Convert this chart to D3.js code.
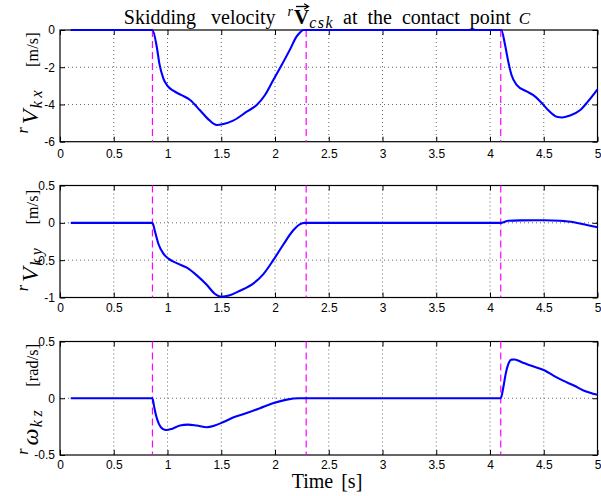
<!DOCTYPE html>
<html><head><meta charset="utf-8">
<script src="https://cdn.jsdelivr.net/npm/d3@7"></script>
<style>body{margin:0;background:#fff}svg{display:block}</style>
</head><body><svg id="c" width="601" height="496"></svg>
<script>
// ---- data ----
const xTicks = [0, 0.5, 1, 1.5, 2, 2.5, 3, 3.5, 4, 4.5, 5];
const eventTimes = [0.86, 2.29, 4.10];

const tKx = [0.1, 0.86, 0.9, 0.924, 0.961, 1.0, 1.054, 1.13, 1.21, 1.30, 1.38, 1.457, 1.52, 1.61, 1.737, 1.83, 1.907, 1.984, 2.062, 2.14, 2.2, 2.235, 2.265, 4.105, 4.14, 4.17, 4.2, 4.25, 4.34, 4.40, 4.47, 4.54, 4.62, 4.67, 4.74, 4.84, 4.91, 5.0];
const vKx = [0, 0, -0.9, -1.79, -2.6, -3.0, -3.26, -3.5, -3.76, -4.3, -4.8, -5.1, -5.05, -4.87, -4.39, -4.03, -3.49, -2.69, -1.88, -1.04, -0.36, -0.12, 0, 0, -0.8, -1.7, -2.42, -2.96, -3.3, -3.49, -3.85, -4.3, -4.66, -4.7, -4.6, -4.3, -3.85, -3.19];

const tKy = [0.1, 0.86, 0.884, 0.915, 0.96, 1.008, 1.085, 1.18, 1.27, 1.365, 1.44, 1.5, 1.58, 1.674, 1.8, 1.89, 1.984, 2.078, 2.17, 2.23, 2.275, 4.105, 4.17, 4.28, 4.51, 4.65, 4.78, 4.9, 5.0];
const vKy = [0, 0, -0.12, -0.28, -0.41, -0.48, -0.54, -0.6, -0.7, -0.83, -0.95, -0.99, -0.97, -0.91, -0.81, -0.69, -0.5, -0.29, -0.1, -0.02, 0, 0, 0.027, 0.033, 0.035, 0.027, 0.007, -0.03, -0.06];

const tWz = [0.1, 0.86, 0.874, 0.893, 0.92, 0.955, 0.99, 1.04, 1.116, 1.19, 1.27, 1.365, 1.44, 1.52, 1.61, 1.737, 1.86, 1.98, 2.11, 2.22, 4.1, 4.124, 4.146, 4.17, 4.2, 4.23, 4.295, 4.37, 4.51, 4.59, 4.68, 4.78, 4.87, 5.0];
const vWz = [0, 0, -0.065, -0.15, -0.226, -0.27, -0.28, -0.27, -0.24, -0.232, -0.24, -0.255, -0.24, -0.21, -0.17, -0.13, -0.088, -0.045, -0.012, 0, 0, 0.097, 0.215, 0.30, 0.34, 0.342, 0.318, 0.29, 0.245, 0.2, 0.155, 0.112, 0.068, 0.03];

const yTicksKx = [-6, -4, -2, 0];
const yTicksKy = [-1, -0.5, 0, 0.5];
const yTicksWz = [-0.5, 0, 0.5];

const titleText = ["Skidding velocity", "r", "V", "csk", "at the contact point", "C"];
const yLabelKx = ["r", "V", "kx", "[m/s]"];
const yLabelKy = ["r", "V", "ky", "[m/s]"];
const yLabelWz = ["r", "\u03C9", "kz", "[rad/s]"];
const xLabelText = "Time [s]";

// ---- layout ----
const SERIF = "'Liberation Serif','Times New Roman',Times,serif";
const SANS = "'Liberation Sans',Arial,Helvetica,sans-serif";
const svg = d3.select("#c");
const L = 60, R = 597.5;
const x = d3.scaleLinear().domain([0, 5]).range([L, R]);

const panels = [
  {t: tKx, v: vKx, dom: [-6, 0], ticks: yTicksKx, top: 30, bottom: 141.7, label: yLabelKx, pad: 8, lsh: -3},
  {t: tKy, v: vKy, dom: [-1, 0.5], ticks: yTicksKy, top: 185.5, bottom: 297.5, label: yLabelKy, pad: 6, lsh: -1},
  {t: tWz, v: vWz, dom: [-0.5, 0.5], ticks: yTicksWz, top: 341.5, bottom: 455, label: yLabelWz, pad: 5, lsh: 1}
];

const fmt = d => String(d);

// rich text flow helper
function styled(sel, p) {
  return sel.attr("font-family", p.family || SERIF).attr("font-size", p.size)
    .attr("font-style", p.style || "normal").attr("font-weight", p.weight || "normal")
    .attr("letter-spacing", p.ls || 0).attr("word-spacing", p.ws || 0);
}
function flow(g, parts) {
  let total = 0;
  parts.forEach(p => {
    const t = styled(svg.append("text"), p).text(p.text);
    p.w = t.node().getComputedTextLength();
    t.remove();
    total += (p.gap || 0) + p.w;
  });
  let cx = -total / 2;
  parts.forEach(p => {
    cx += (p.gap || 0);
    p.x0 = cx;
    styled(g.append("text"), p).attr("x", cx).attr("y", p.dy || 0).attr("fill", "#000").text(p.text);
    cx += p.w;
  });
  return parts;
}

panels.forEach(p => {
  const y = d3.scaleLinear().domain(p.dom).range([p.bottom, p.top]);
  const g = svg.append("g");
  // grid
  g.append("g").selectAll("line").data(xTicks.filter(d => d > 0 && d < 5)).join("line")
    .attr("x1", d => x(d)).attr("x2", d => x(d)).attr("y1", p.top).attr("y2", p.bottom)
    .attr("stroke", "#555").attr("stroke-width", 0.9).attr("stroke-dasharray", "1,3");
  g.append("g").selectAll("line").data(p.ticks.filter(d => d > p.dom[0] && d < p.dom[1])).join("line")
    .attr("x1", L).attr("x2", R).attr("y1", d => y(d)).attr("y2", d => y(d))
    .attr("stroke", "#555").attr("stroke-width", 0.9).attr("stroke-dasharray", "1,3");
  // axes
  const styleAx = s => { s.select(".domain").remove(); s.selectAll(".tick line").attr("stroke", "#000"); s.selectAll("text").attr("font-family", SANS).attr("font-size", 12).attr("fill", "#000"); };
  g.append("g").attr("transform", `translate(0,${p.bottom})`)
    .call(d3.axisBottom(x).tickValues(xTicks).tickFormat(fmt).tickSize(-5).tickSizeOuter(0).tickPadding(p.pad)).call(styleAx);
  g.append("g").attr("transform", `translate(0,${p.top})`)
    .call(d3.axisTop(x).tickValues(xTicks).tickFormat("").tickSize(-5).tickSizeOuter(0)).call(styleAx);
  g.append("g").attr("transform", `translate(${L},0)`)
    .call(d3.axisLeft(y).tickValues(p.ticks).tickFormat(fmt).tickSize(-5).tickSizeOuter(0).tickPadding(5)).call(styleAx);
  g.append("g").attr("transform", `translate(${R},0)`)
    .call(d3.axisRight(y).tickValues(p.ticks).tickFormat("").tickSize(-5).tickSizeOuter(0)).call(styleAx);
  // box
  g.append("rect").attr("x", L).attr("y", p.top).attr("width", R - L).attr("height", p.bottom - p.top)
    .attr("fill", "none").attr("stroke", "#000").attr("stroke-width", 1.2);
  // event lines
  g.append("g").selectAll("line").data(eventTimes).join("line")
    .attr("x1", d => x(d)).attr("x2", d => x(d)).attr("y1", p.top).attr("y2", p.bottom)
    .attr("stroke", "#ff00ff").attr("stroke-width", 1.2).attr("stroke-dasharray", "7,4");
  // series
  const pts = p.t.map((t, i) => [t, p.v[i]]);
  g.append("path").datum(pts)
    .attr("d", d3.line().x(d => x(d[0])).y(d => y(d[1])).curve(d3.curveMonotoneX))
    .attr("fill", "none").attr("stroke", "#0000ff").attr("stroke-width", 2.1).attr("stroke-linejoin", "round");
  // y label
  const cy = (p.top + p.bottom) / 2 + p.lsh;
  const lg = svg.append("g").attr("transform", `translate(38,${cy}) rotate(-90)`);
  flow(lg, [
    {text: p.label[0], size: 16, style: "italic", dy: -10},
    {text: p.label[1], size: 24, style: "italic", gap: 3, ls: 1.5},
    {text: p.label[2], size: 16, style: "italic", dy: 4, ls: 3.5},
    {text: p.label[3], size: 16, gap: 20, ls: 0.2}
  ]);
});

// title
const tg = svg.append("g").attr("transform", "translate(327,23.5)");
const tp = flow(tg, [
  {text: titleText[0], size: 20, ws: 10},
  {text: titleText[1], size: 14, style: "italic", dy: -8, gap: 12},
  {text: titleText[2], size: 21, weight: "bold", gap: 1},
  {text: titleText[3], size: 16, style: "italic", dy: 4, ls: 1.5},
  {text: titleText[4], size: 20, gap: 9, ws: 5},
  {text: titleText[5], size: 17, style: "italic", gap: 8}
]);
// arrow over V
const vp = tp[2];
const ax0 = vp.x0 + 2, ax1 = vp.x0 + vp.w - 1, ay = -17;
tg.append("line").attr("x1", ax0).attr("x2", ax1).attr("y1", ay).attr("y2", ay).attr("stroke", "#000").attr("stroke-width", 1.3);
tg.append("path").attr("d", `M${ax1 - 4},${ay - 2.8} L${ax1 + 0.5},${ay} L${ax1 - 4},${ay + 2.8}`).attr("fill", "none").attr("stroke", "#000").attr("stroke-width", 1.2);

// x label
svg.append("text").attr("x", 327).attr("y", 488).attr("text-anchor", "middle")
  .attr("font-family", SERIF).attr("font-size", 20).attr("word-spacing", 3).text(xLabelText);
</script>
</body></html>
